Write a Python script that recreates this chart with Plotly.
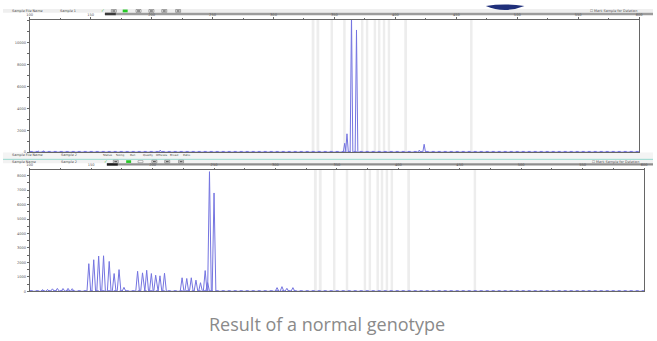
import plotly.graph_objects as go

W, H = 657, 341

# ---------------- data ----------------
x_ticks = [100, 150, 200, 250, 300, 350, 400, 450, 500, 550, 600]
x_tick_text = ["100", "150", "200", "250", "300", "350", "400", "450", "500", "550", "600"]
top_y_ticks = [0, 2000, 4000, 6000, 8000, 10000]
top_y_text = ["0", "2000", "4000", "6000", "8000", "10000"]
bot_y_ticks = [0, 1000, 2000, 3000, 4000, 5000, 6000, 7000, 8000]
bot_y_text = ["0", "1000", "2000", "3000", "4000", "5000", "6000", "7000", "8000"]

# bins (grey panels), size in bp
bin_start = [331.3, 335.3, 346.8, 357.2, 371.8, 375.8, 382.2, 385.7, 389.7, 393.7, 407.3, 461.3]
bin_end   = [333.6, 337.6, 348.8, 359.2, 373.8, 377.8, 384.2, 387.7, 391.7, 395.7, 409.5, 463.3]

# upper electropherogram peaks
top_pos = [107.0, 111.5, 207.1, 358.4, 360.3, 364.0, 368.1, 419.6, 423.6]
top_h   = [90, 110, 180, 807, 1676, 12600, 11177, 179, 717]

# lower electropherogram peaks
bot_pos = [110.5, 114.5, 118.5, 122.5, 127.1, 131.2, 134.6,
           148.1, 152.1, 156.1, 160.1, 164.7, 168.7, 172.7, 176.7,
           187.8, 191.8, 195.2, 199.0, 202.5, 206.0, 209.7,
           224.0, 227.8, 231.5, 235.3, 239.0, 242.8, 244.8, 246.3, 250.0,
           301.3, 305.3, 309.3, 314.2]
bot_h   = [110, 130, 170, 200, 190, 200, 180,
           1912, 2185, 2438, 2459, 2069, 1229, 1502, 273,
           1386, 1277, 1455, 1229, 1113, 1072, 1250,
           936, 888, 936, 772, 594, 1434, 600, 8284, 6809,
           253, 321, 205, 253]

caption = "Result of a normal genotype"

# ---------------- helpers ----------------
def X(px):
    return px / W

def Y(py):
    return 1 - py / H

def trace_pts(pos, h, hw, lo, hi):
    xs, ys = [lo], [0]
    for p, v in sorted(zip(pos, h)):
        xs += [p - hw, p, p + hw]
        ys += [0, v, 0]
    xs.append(hi)
    ys.append(0)
    return xs, ys

LINE = "#7474e0"
fig = go.Figure()

tx, ty = trace_pts(top_pos, top_h, 1.1, 100, 600)
fig.add_trace(go.Scatter(x=tx, y=ty, mode="lines", line=dict(color=LINE, width=1),
                         xaxis="x", yaxis="y", showlegend=False))
bx, by = trace_pts(bot_pos, bot_h, 1.5, 100, 600)
fig.add_trace(go.Scatter(x=bx, y=by, mode="lines", line=dict(color=LINE, width=1),
                         xaxis="x2", yaxis="y2", showlegend=False))
# dotted baselines
for xa, ya, yv in (("x", "y", 60), ("x2", "y2", 40)):
    fig.add_trace(go.Scatter(x=[100, 600], y=[yv, yv], mode="lines",
                             line=dict(color=LINE, width=1, dash="dot"),
                             xaxis=xa, yaxis=ya, showlegend=False))

shapes = []
for s, e in zip(bin_start, bin_end):
    for xr, yr in (("x", "y domain"), ("x2", "y2 domain")):
        shapes.append(dict(type="rect", xref=xr, yref=yr, x0=s, x1=e, y0=0, y1=1,
                           fillcolor="#ededed", line=dict(width=0), layer="below"))

def prect(x0, y0, x1, y1, color, lc=None):
    shapes.append(dict(type="rect", xref="paper", yref="paper", layer="below",
                       x0=X(x0), x1=X(x1), y0=Y(y1), y1=Y(y0),
                       fillcolor=color,
                       line=dict(width=0.6 if lc else 0, color=lc or color)))

# header bars (top)
prect(0, 9.0, 657, 12.8, "#efefef")
prect(103, 12.8, 657, 15.3, "#9c9c9c")
prect(103, 12.8, 114, 15.3, "#3a3a3a")
# middle bars
prect(0, 153.5, 657, 159.6, "#f4f4f4")
prect(0, 159.6, 657, 160.9, "#a8dcd4")
prect(0, 160.9, 657, 164.2, "#f2f2f2")
prect(105, 164.2, 657, 166.6, "#8e8e8e")
prect(105, 164.2, 116, 166.6, "#1e1e1e")

# buttons
for bxp in (112, 137, 150, 163, 177):
    prect(bxp - 2.5, 9.6, bxp + 2.5, 12.4, "#ffffff", "#666666")
    prect(bxp - 1.5, 10.4, bxp + 1.5, 11.7, "#555555")
prect(121, 9.6, 126, 12.4, "#27c827")
for bxp in (114, 153, 166, 180):
    prect(bxp - 2.5, 161.2, bxp + 2.5, 163.9, "#ffffff", "#666666")
    prect(bxp - 1.5, 162.0, bxp + 1.5, 163.2, "#555555")
prect(124.5, 161.2, 129.5, 163.9, "#27c827")
prect(136.5, 161.6, 141.5, 163.6, "#ffffff", "#888888")

# blue lens at top
shapes.append(dict(type="path", xref="paper", yref="paper",
                   path=(f"M {X(488)},{Y(6)} Q {X(507)},{Y(14)} {X(527)},{Y(6)} "
                         f"Q {X(507)},{Y(3)} {X(488)},{Y(6)} Z"),
                   fillcolor="#1f2f7a", line=dict(width=0)))

annotations = []

def ptext(x, y, t, size=3.4, color="#444444", anchor="left"):
    annotations.append(dict(x=X(x), y=Y(y), xref="paper", yref="paper", text=t,
                            showarrow=False, xanchor=anchor, yanchor="middle",
                            borderpad=0,
                            font=dict(size=size, color=color, family="DejaVu Sans")))

ptext(8, 11, "Sample File Name")
ptext(57, 11, "Sample 1")
ptext(98, 11, "✓", size=4.5, color="#2db52d")
ptext(592, 11, "☐ Mark Sample for Deletion")
ptext(8, 156.3, "Sample File Name")
ptext(58, 156.3, "Sample 2")
for i, t in enumerate(["Status", "Sizing", "Run", "Quality", "Offscale", "Broad", "Ratio"]):
    ptext(100 + i * 13.5, 156.3, t, size=2.8)
ptext(8, 162.5, "Sample Name")
ptext(58, 162.5, "Sample 2")
ptext(101, 162.5, "✓", size=4.5, color="#2db52d")
ptext(594, 162.5, "☐ Mark Sample for Deletion")
annotations.append(dict(x=X(327.5), y=Y(326), xref="paper", yref="paper", text=caption,
                        showarrow=False, xanchor="center", yanchor="middle",
                        font=dict(size=18, color="#8a8a8a", family="Open Sans")))

tickfont = dict(size=3.6, color="#555555", family="DejaVu Sans")
AX = "#666666"

def xaxis(dom, anchor):
    return dict(domain=[X(dom[0]), X(dom[1])], anchor=anchor, side="top",
                range=[100, 600], tickvals=x_ticks, ticktext=x_tick_text, tickfont=tickfont,
                ticks="outside", ticklen=1.5, tickcolor=AX, tickwidth=0.6,
                minor=dict(dtick=25, tick0=100, ticks="outside", ticklen=1.2, tickcolor=AX),
                showline=True, linecolor=AX, linewidth=0.8, mirror=True,
                showgrid=False, zeroline=False, fixedrange=True)

def yaxis(dom, anchor, rng, tv, tt, mdt):
    return dict(domain=[Y(dom[1]), Y(dom[0])], anchor=anchor, range=rng,
                tickvals=tv, ticktext=tt, tickfont=tickfont,
                ticks="outside", ticklen=2, tickcolor=AX, tickwidth=0.6,
                minor=dict(dtick=mdt, tick0=0, ticks="outside", ticklen=1.5, tickcolor=AX),
                showline=True, linecolor=AX, linewidth=0.8, mirror=True,
                showgrid=False, zeroline=False, fixedrange=True)

fig.update_layout(
    width=W, height=H, margin=dict(l=0, r=0, t=0, b=0),
    paper_bgcolor="white", plot_bgcolor="white",
    xaxis=xaxis((27, 643), "y"),
    yaxis=yaxis((20, 153), "x", [0, 12100], top_y_ticks, top_y_text, 1000),
    xaxis2=xaxis((27, 648), "y2"),
    yaxis2=yaxis((171, 293), "x2", [0, 8400], bot_y_ticks, bot_y_text, 500),
    shapes=shapes, annotations=annotations, showlegend=False,
)

fig.write_html("out.html")
